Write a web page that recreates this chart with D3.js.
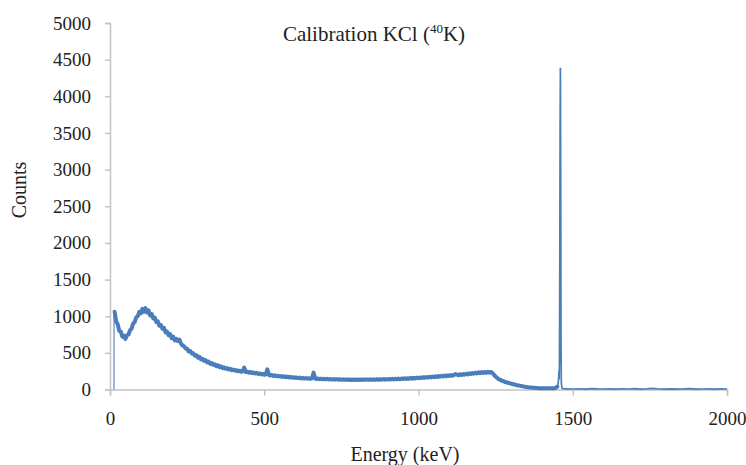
<!DOCTYPE html>
<html>
<head>
<meta charset="utf-8">
<script src="https://cdn.jsdelivr.net/npm/d3@7"></script>
<style>
  body { margin: 0; background: #fff; }
  text { font-family: "Liberation Serif", "Times New Roman", serif; fill: #222; }
</style>
</head>
<body>
<svg id="chart" width="746" height="465"></svg>
<script>
(function(){

  // channel energies (keV) of the continuum part, 5 keV bins
  const contEnergy = d3.range(15, 1451, 5)

  // counts for each continuum bin (15 .. 1450 keV)
  const contCounts = [
    1060, 930, 890, 800, 790, 720, 735, 690, 740, 750,
    810, 830, 900, 920, 985, 1000, 1060, 1040, 1100, 1060,
    1110, 1050, 1080, 1010, 1030, 970, 980, 920, 930, 870,
    880, 830, 840, 780, 790, 740, 755, 700, 720, 670,
    690, 660, 680, 630, 600, 590, 560, 555, 520, 525,
    490, 495, 460, 470, 435, 445, 410, 420, 390, 400,
    370, 380, 350, 362, 335, 345, 318, 330, 305, 315,
    292, 302, 282, 292, 272, 282, 263, 272, 255, 265,
    248, 257, 242, 248, 300, 238, 245, 230, 240, 225,
    233, 218, 228, 212, 222, 206, 215, 200, 210, 275,
    200, 190, 198, 185, 193, 180, 188, 176, 184, 172,
    180, 168, 176, 164, 172, 161, 168, 158, 165, 154,
    162, 151, 158, 149, 156, 147, 154, 145, 152, 230,
    150, 143, 150, 141, 148, 139, 146, 138, 145, 136,
    143, 135, 142, 134, 141, 133, 140, 132, 139, 131,
    138, 130, 138, 129, 137, 129, 137, 129, 137, 129,
    137, 130, 138, 130, 138, 131, 139, 131, 139, 132,
    140, 132, 141, 133, 142, 134, 143, 135, 144, 136,
    146, 137, 147, 139, 149, 140, 151, 142, 153, 144,
    155, 146, 158, 148, 160, 150, 162, 153, 165, 156,
    168, 159, 171, 162, 174, 165, 177, 168, 181, 171,
    185, 175, 188, 178, 191, 181, 194, 184, 197, 187,
    200, 210, 203, 194, 208, 198, 212, 202, 216, 206,
    221, 211, 226, 215, 230, 219, 235, 222, 238, 225,
    240, 228, 242, 230, 240, 225, 200, 175, 160, 140,
    135, 118, 115, 102, 100, 90, 88, 78, 76, 68,
    65, 58, 56, 49, 47, 41, 39, 33, 32, 27,
    27, 23, 23, 20, 20, 18, 18, 17, 17, 16,
    16, 16, 16, 17, 17, 18, 22, 40
  ]

  // low-energy threshold edge
  const edgePoints = [[13, 0], [13, 1060], [15, 1060]]

  // 1460 keV photopeak of 40K
  const peakPoints = [
    [1450, 40], [1452, 70], [1454, 130], [1455, 250], [1456, 140], [1457, 420],
    [1458, 1800], [1459, 3600], [1460, 4390], [1461, 2900], [1462, 600],
    [1463, 90], [1465, 20], [1468, 10]
  ]

  // flat tail above the peak
  const tailPoints = [
    [1480, 9], [1500, 7], [1520, 10], [1540, 6], [1560, 12], [1580, 8],
    [1600, 7], [1620, 9], [1640, 6], [1660, 10], [1680, 7], [1700, 12],
    [1720, 6], [1740, 8], [1760, 14], [1780, 7], [1800, 6], [1820, 9],
    [1840, 6], [1860, 8], [1880, 12], [1900, 6], [1920, 7], [1940, 9],
    [1960, 6], [1980, 8], [2000, 7]
  ]

  const xTicks = [0, 500, 1000, 1500, 2000]
  const yTicks = [0, 500, 1000, 1500, 2000, 2500, 3000, 3500, 4000, 4500, 5000]

  const continuum = contEnergy.map((e, i) => [e, contCounts[i]])
  const peakAndTail = peakPoints.concat(tailPoints)

  const svg = d3.select('#chart')
  const m = { left: 110, right: 19, top: 23, bottom: 75.5 }
  const W = 746, H = 465

  const x = d3.scaleLinear().domain([0, 2000]).range([m.left, W - m.right])
  const y = d3.scaleLinear().domain([0, 5000]).range([H - m.bottom, m.top])

  const axisColor = '#c4c4c4'
  const blue = '#4a7ebb'

  // y axis
  const gy = svg.append('g').attr('transform', `translate(${m.left},0)`)
    .call(d3.axisLeft(y).tickValues(yTicks).tickSize(5).tickPadding(14).tickFormat(d3.format('d')))
  gy.select('.domain').attr('stroke', axisColor).attr('stroke-width', 1.5)
  gy.selectAll('.tick line').attr('stroke', axisColor).attr('stroke-width', 1.5)
  gy.selectAll('.tick text').attr('font-size', '19px')
    .attr('font-family', '"Liberation Serif", serif').attr('fill', '#222')

  // x axis
  const gx = svg.append('g').attr('transform', `translate(0,${H - m.bottom})`)
    .call(d3.axisBottom(x).tickValues(xTicks).tickSize(6).tickPadding(16).tickFormat(d3.format('d')))
  gx.select('.domain').attr('stroke', axisColor).attr('stroke-width', 1.5)
  gx.selectAll('.tick line').attr('stroke', axisColor).attr('stroke-width', 1.5)
  gx.selectAll('.tick text').attr('font-size', '19px')
    .attr('font-family', '"Liberation Serif", serif').attr('fill', '#222')

  // spectrum
  const line = d3.line().x(d => x(d[0])).y(d => y(d[1]))

  svg.append('path').datum(edgePoints)
    .attr('d', line).attr('fill', 'none')
    .attr('stroke', '#7fa6d6').attr('stroke-width', 1.6)

  svg.append('path').datum(peakAndTail)
    .attr('d', line).attr('fill', 'none')
    .attr('stroke', blue).attr('stroke-width', 1.7)
    .attr('stroke-linejoin', 'miter')

  svg.append('path').datum(continuum)
    .attr('d', line).attr('fill', 'none')
    .attr('stroke', blue).attr('stroke-width', 4)
    .attr('stroke-linejoin', 'round').attr('stroke-linecap', 'round')

  // title with superscript
  const title = svg.append('text').attr('x', 374).attr('y', 41)
    .attr('text-anchor', 'middle').attr('font-size', '21px')
  title.append('tspan').text('Calibration KCl (')
  title.append('tspan').text('40').attr('font-size', '13px').attr('dy', -8)
  title.append('tspan').text('K)').attr('dy', 8)

  // axis titles
  svg.append('text').attr('transform', 'translate(26,190) rotate(-90)')
    .attr('text-anchor', 'middle').attr('font-size', '20px').text('Counts')
  svg.append('text').attr('x', 405).attr('y', 461)
    .attr('text-anchor', 'middle').attr('font-size', '20px').text('Energy (keV)')

})()
</script>
</body>
</html>
